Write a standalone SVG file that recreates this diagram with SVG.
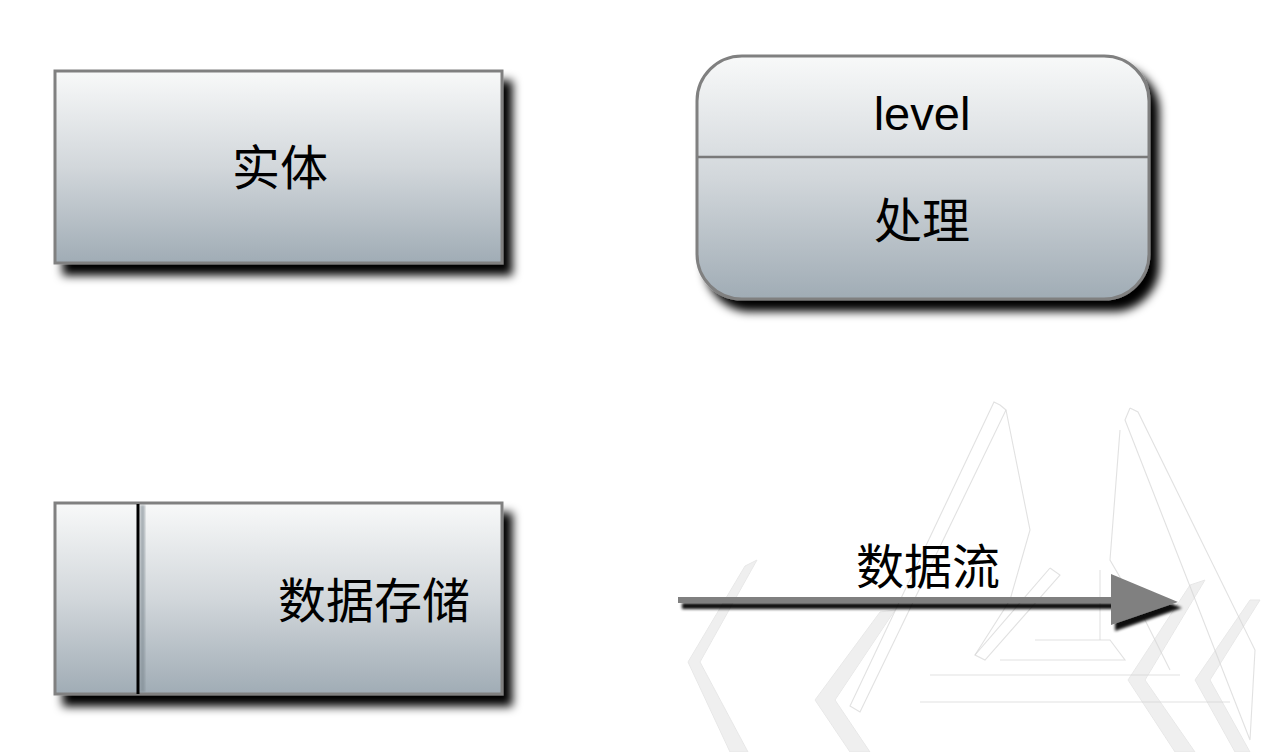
<svg xmlns="http://www.w3.org/2000/svg" width="1264" height="752" viewBox="0 0 1264 752">
<defs>
<linearGradient id="g" x1="0" y1="0" x2="0" y2="1">
<stop offset="0" stop-color="#f8f9f9"/>
<stop offset="0.5" stop-color="#d2d7db"/>
<stop offset="1" stop-color="#a0acb5"/>
</linearGradient>
<filter id="sh" x="-10%" y="-10%" width="130%" height="140%">
<feGaussianBlur in="SourceAlpha" stdDeviation="5"/>
<feOffset dx="9" dy="11" result="b"/>
<feComponentTransfer in="b" result="c"><feFuncA type="linear" slope="1"/></feComponentTransfer>
<feMerge><feMergeNode in="c"/><feMergeNode in="SourceGraphic"/></feMerge>
</filter>
<filter id="shs" x="-10%" y="-50%" width="130%" height="300%">
<feGaussianBlur in="SourceAlpha" stdDeviation="1.5"/>
<feOffset dx="4" dy="6" result="b"/>
<feComponentTransfer in="b" result="c"><feFuncA type="linear" slope="0.95"/></feComponentTransfer>
<feMerge><feMergeNode in="c"/><feMergeNode in="SourceGraphic"/></feMerge>
</filter>
<filter id="blur1"><feGaussianBlur stdDeviation="1.2"/></filter>
</defs>
<style>
.box{fill:url(#g);stroke:#808080;stroke-width:3;filter:url(#sh)}
.cjk{font-family:"Noto Sans CJK SC","Noto Sans",sans-serif;font-size:48px;fill:#000;text-anchor:middle}
.lat{font-family:"Liberation Sans",Arial,sans-serif;font-size:47px;fill:#000;text-anchor:middle}
.wm{fill:none;stroke:#d4d4d4;stroke-width:1.1;opacity:0.7}
.wmf{fill:#ececec;stroke:#e2e2e2;stroke-width:1;opacity:0.8}
</style>
<rect width="1264" height="752" fill="#fff"/>
<g id="watermark">
<polygon class="wmf" points="757,560 700,662 748,752 730,752 688,662 745,566"/>
<polygon class="wmf" points="895,610 835,700 870,752 850,752 815,700 880,612"/>
<polygon class="wmf" points="1205,580 1145,680 1195,752 1175,752 1128,680 1190,585"/>
<polygon class="wmf" points="1260,600 1210,680 1250,752 1235,752 1195,680 1250,600"/>
<polyline class="wm" points="1000,405 1006,410 860,712 850,706 994,402 1000,405"/>
<polyline class="wm" points="1130,408 1138,412 1255,650 1250,740 1125,420 1130,408"/>
<polyline class="wm" points="1006,410 1030,530 1010,600 975,655"/>
<polyline class="wm" points="1120,430 1110,560 1145,620 1170,670"/>
<polyline class="wm" points="1050,568 1060,575 985,660 975,655 1050,568"/>
<polyline class="wm" points="1035,640 1110,640 1125,660 1000,660"/>
<line class="wm" x1="930" y1="675" x2="1180" y2="675"/>
<line class="wm" x1="920" y1="702" x2="1230" y2="702"/>
<polyline class="wm" points="1100,570 1100,640"/>
</g>
<g id="entity">
<rect class="box" x="55" y="71" width="447" height="192"/>
<text class="cjk" x="280" y="185">实体</text>
</g>
<g id="process">
<rect class="box" x="697" y="56" width="452" height="243" rx="45" ry="45"/>
<line x1="699" y1="160" x2="1147" y2="160" stroke="#8e969c" stroke-width="3" opacity="0.6" filter="url(#blur1)"/>
<line x1="698" y1="157" x2="1148" y2="157" stroke="#7a7a7a" stroke-width="2.5"/>
<text class="lat" x="922" y="130">level</text>
<text class="cjk" x="922" y="238">处理</text>
</g>
<g id="datastore">
<rect class="box" x="55" y="503" width="447" height="191"/>
<rect x="140" y="505" width="5" height="187" fill="#7f8a92" opacity="0.6" filter="url(#blur1)"/>
<line x1="138" y1="504" x2="138" y2="694" stroke="#000" stroke-width="3"/>
<text class="cjk" x="374" y="618">数据存储</text>
</g>
<g id="connectors">
<g filter="url(#shs)">
<rect x="678" y="597" width="436" height="6" fill="#808080"/>
<polygon points="1111,574 1178,602 1111,625" fill="#808080"/>
</g>
<text class="cjk" x="928" y="584">数据流</text>
</g>
</svg>
